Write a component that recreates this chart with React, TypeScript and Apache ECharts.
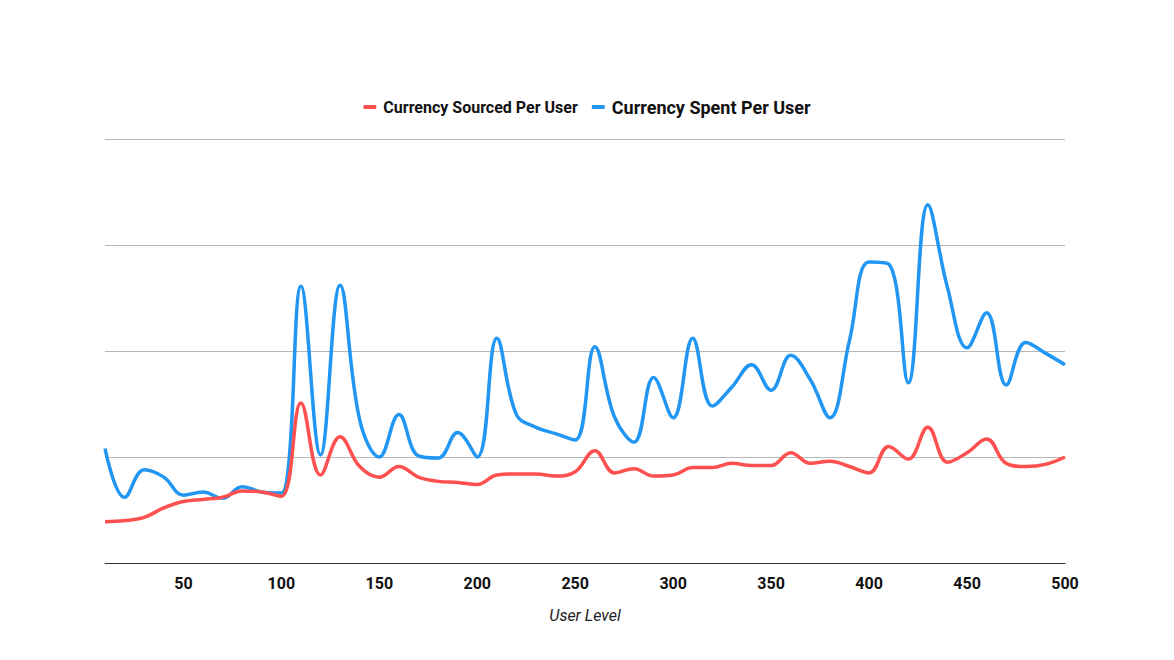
import React, { useEffect, useRef } from "react";
import * as echarts from "echarts";

const levels = [10, 20, 30, 40, 50, 60, 70, 80, 90, 100, 110, 120, 130, 140, 150, 160, 170, 180, 190, 200, 210, 220, 230, 240, 250, 260, 270, 280, 290, 300, 310, 320, 330, 340, 350, 360, 370, 380, 390, 400, 410, 420, 430, 440, 450, 460, 470, 480, 490, 500];

const sourced = [39, 40, 43, 52, 58, 60, 62, 68, 67, 63, 151, 83, 119, 91, 81, 91, 81, 77, 76, 74, 83, 84, 84, 82, 86, 106, 85, 89, 82, 83, 90, 90, 94, 92, 92, 104, 94, 96, 91, 85, 110, 98, 128, 95, 104, 117, 94, 91, 93, 100];

const spent = [108, 62, 88, 81, 64, 67, 61, 72, 67, 66, 261, 102, 262, 135, 100, 140, 101, 99, 123, 100, 212, 140, 128, 122, 116, 204, 138, 114, 175, 137, 212, 148, 166, 187, 163, 196, 173, 137, 210, 284, 282, 170, 338, 260, 203, 236, 168, 208, 198, 187];

const xTicks = [50, 100, 150, 200, 250, 300, 350, 400, 450, 500];

const seriesNames = ["Currency Sourced Per User", "Currency Spent Per User"];
const colors = ["#ff5050", "#2196f3"];

export default function App() {
  const ref = useRef<HTMLDivElement>(null);
  useEffect(() => {
    if (!ref.current) return;
    const chart = echarts.init(ref.current, undefined, { renderer: "svg" });
    chart.setOption({
      animation: false,
      textStyle: { fontFamily: "Roboto" },
      legend: {
        top: 93,
        left: "center",
        itemGap: 14,
        itemWidth: 13,
        itemHeight: 4,
        icon: "roundRect",
        data: [
          { name: seriesNames[0], textStyle: { fontSize: 16, fontWeight: "bold", color: "#111", padding: [0, 0, 0, 2] } },
          { name: seriesNames[1], textStyle: { fontSize: 18, fontWeight: "bold", color: "#111", padding: [0, 0, 0, 2] } },
        ],
      },
      grid: { left: 105, right: 109, top: 139, bottom: 97 },
      xAxis: {
        type: "value",
        min: 10,
        max: 500,
        name: "User Level",
        nameLocation: "middle",
        nameGap: 44,
        nameTextStyle: { fontSize: 16, fontStyle: "italic", color: "#222" },
        axisLine: { show: true, lineStyle: { color: "#333", width: 1 } },
        axisTick: { show: false },
        splitLine: { show: false },
        axisLabel: {
          customValues: xTicks,
          fontSize: 16,
          fontWeight: "bold",
          color: "#111",
          margin: 12,
        },
      },
      yAxis: {
        type: "value",
        min: 0,
        max: 400,
        interval: 100,
        axisLine: { show: false },
        axisTick: { show: false },
        axisLabel: { show: false },
        splitLine: { lineStyle: { color: "#b8b8b8", width: 1 } },
      },
      series: [
        {
          name: seriesNames[0],
          type: "line",
          data: levels.map((l, i) => [l, sourced[i]]),
          smooth: 0.4,
          showSymbol: false,
          symbol: "none",
          color: colors[0],
          lineStyle: { width: 3.5, color: colors[0] },
          z: 3,
        },
        {
          name: seriesNames[1],
          type: "line",
          data: levels.map((l, i) => [l, spent[i]]),
          smooth: 0.4,
          showSymbol: false,
          symbol: "none",
          color: colors[1],
          lineStyle: { width: 3.5, color: colors[1] },
          z: 2,
        },
      ],
    });
    return () => chart.dispose();
  }, []);
  return <div ref={ref} style={{ width: 1174, height: 660, margin: -8 }} />;
}
